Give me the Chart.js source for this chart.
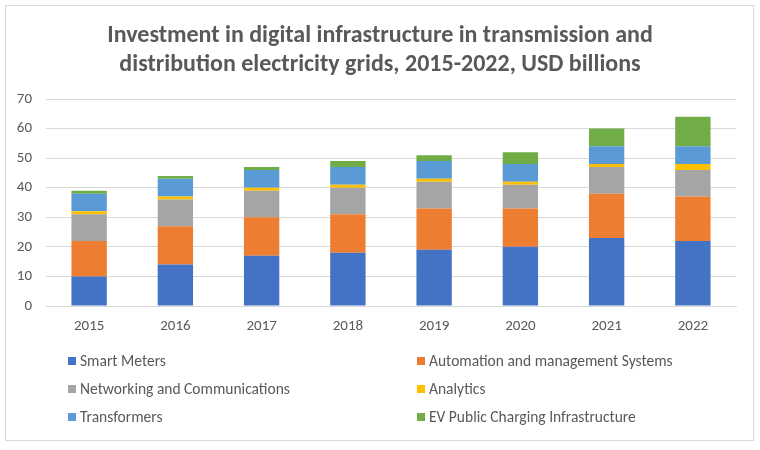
<!DOCTYPE html>
<html>
<head>
<meta charset="utf-8">
<script src="https://cdn.jsdelivr.net/npm/chart.js@4/dist/chart.umd.min.js"></script>
<style>
  html, body { margin: 0; padding: 0; background: #fff; }
  #wrap { position: relative; width: 760px; height: 450px; }
  #frame { position: absolute; left: 5px; top: 5px; width: 749px; height: 436px; border: 1px solid #d9d9d9; box-sizing: border-box; }
  canvas { position: absolute; left: 0; top: 0; }
</style>
</head>
<body>
<div id="wrap">
  <div id="frame"></div>
  <canvas id="c" width="760" height="450"></canvas>
</div>
<script>
const years = ["2015", "2016", "2017", "2018", "2019", "2020", "2021", "2022"];
const smartMeters   = [10, 14, 17, 18, 19, 20, 23, 22];
const automation    = [12, 13, 13, 13, 14, 13, 15, 15];
const networking    = [9, 9, 9, 9, 9, 8, 9, 9];
const analytics     = [1, 1, 1, 1, 1, 1, 1, 2];
const transformers  = [6, 6, 6, 6, 6, 6, 6, 6];
const evCharging    = [1, 1, 1, 2, 2, 4, 6, 10];
const titleLines = ["Investment in digital infrastructure in transmission and", "distribution electricity grids, 2015-2022, USD billions"];
const seriesNames = ["Smart Meters", "Automation and management Systems", "Networking and Communications", "Analytics", "Transformers", "EV Public Charging Infrastructure"];
const seriesColors = ["#4472C4", "#ED7D31", "#A5A5A5", "#FFC000", "#5B9BD5", "#70AD47"];
const seriesValues = [smartMeters, automation, networking, analytics, transformers, evCharging];

const FONT = "Calibri, Carlito, Lato, 'Open Sans', sans-serif";
const TEXT = "#595959";

const legendPlugin = {
  id: "twoColLegend",
  afterDraw(chart) {
    const ctx = chart.ctx;
    ctx.save();
    ctx.font = "15.5px " + FONT;
    ctx.textBaseline = "middle";
    ctx.textAlign = "left";
    const colX = [68, 417];
    const rowY = [361, 389, 417];
    chart.data.datasets.forEach((ds, i) => {
      const x = colX[i % 2];
      const y = rowY[Math.floor(i / 2)];
      ctx.fillStyle = ds.backgroundColor;
      ctx.fillRect(x, y - 4, 8, 8);
      ctx.fillStyle = TEXT;
      ctx.fillText(ds.label, x + 12, y + 1);
    });
    ctx.restore();
  }
};

new Chart(document.getElementById("c"), {
  type: "bar",
  data: {
    labels: years,
    datasets: seriesNames.map((n, i) => ({
      label: n,
      data: seriesValues[i],
      backgroundColor: seriesColors[i],
      borderWidth: 0,
      barPercentage: 0.41,
      categoryPercentage: 1.0
    }))
  },
  options: {
    responsive: false,
    animation: false,
    layout: { padding: { left: 0, right: 0, top: 6, bottom: 114 } },
    plugins: {
      legend: { display: false },
      tooltip: { enabled: false },
      title: {
        display: true,
        text: titleLines,
        color: TEXT,
        font: { family: FONT, size: 24, weight: "bold", lineHeight: 29 / 24 },
        padding: { top: 15, bottom: 20 }
      }
    },
    scales: {
      x: {
        stacked: true,
        grid: { display: false, drawTicks: false },
        border: { display: true, color: "#d9d9d9" },
        ticks: { color: TEXT, font: { family: FONT, size: 15 }, padding: 11 },
        afterFit(s) { s.height = 30; }
      },
      y: {
        stacked: true,
        min: 0, max: 70,
        ticks: { stepSize: 10, color: TEXT, font: { family: FONT, size: 15 }, padding: 14 },
        grid: { color: "#d9d9d9", drawTicks: false },
        border: { display: false },
        afterFit(s) { s.width = 46; }
      },
      yRight: {
        position: "right",
        min: 0, max: 70,
        grid: { display: false, drawTicks: false },
        border: { display: false },
        ticks: { display: false },
        afterFit(s) { s.width = 24; }
      }
    }
  },
  plugins: [legendPlugin]
});
</script>
</body>
</html>
